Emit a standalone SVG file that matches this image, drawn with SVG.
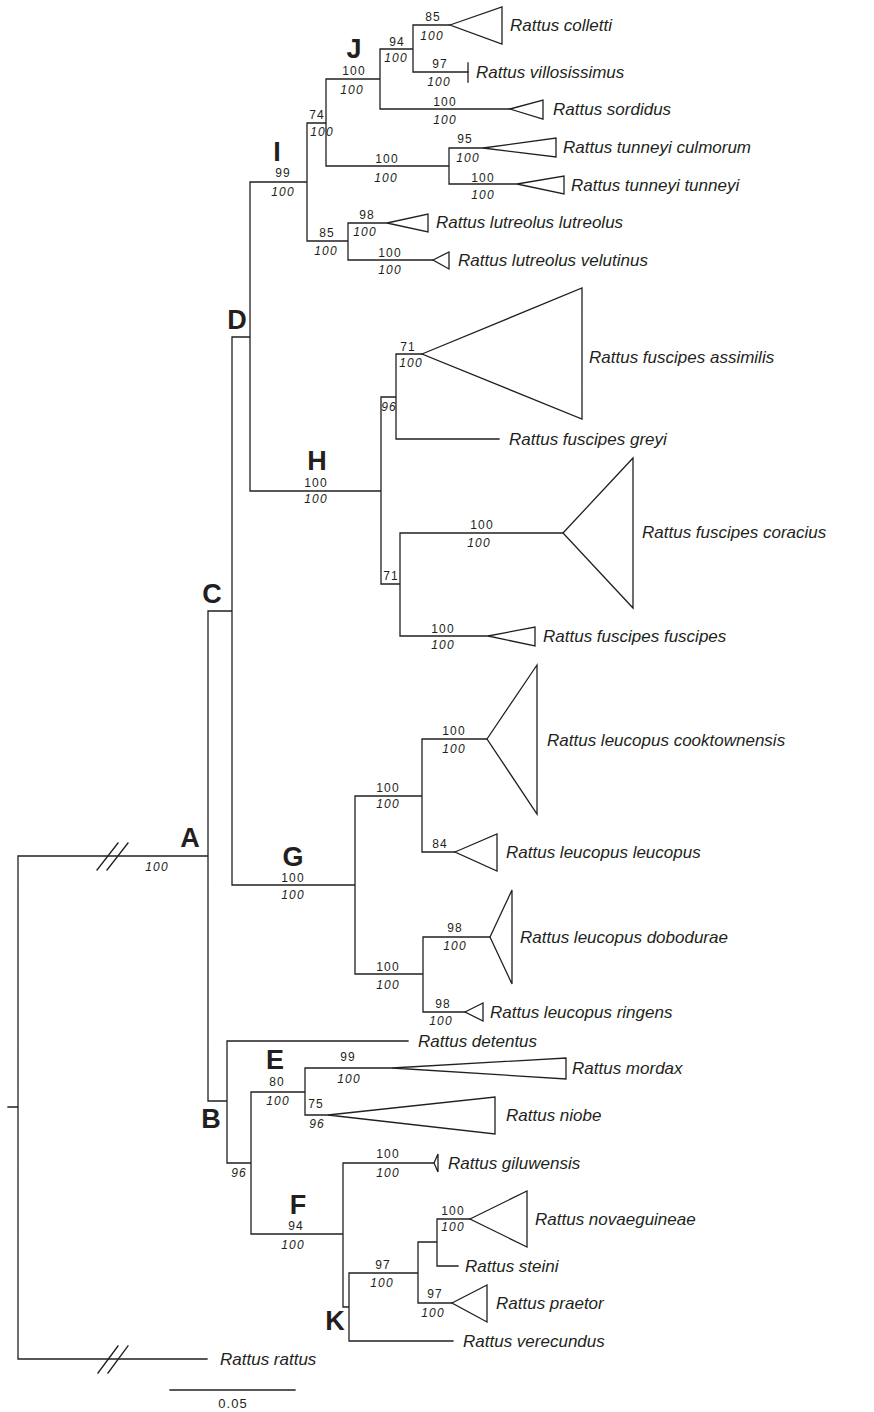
<svg xmlns="http://www.w3.org/2000/svg" width="874" height="1412" viewBox="0 0 874 1412">
<style>
.br{fill:none;stroke:#231f20;stroke-width:1.3;stroke-linecap:square}
.tri{fill:none;stroke:#231f20;stroke-width:1.3;stroke-linejoin:miter}
.tx{font-family:"Liberation Sans",Arial,sans-serif;font-style:italic;font-size:17px;fill:#231f20}
.bs{font-family:"Liberation Sans",Arial,sans-serif;font-size:12px;letter-spacing:1.2px;fill:#231f20;text-anchor:middle}
.pp{font-family:"Liberation Sans",Arial,sans-serif;font-size:12px;font-style:italic;letter-spacing:1.2px;fill:#231f20;text-anchor:middle}
.cl{font-family:"Liberation Sans",Arial,sans-serif;font-size:27px;font-weight:bold;fill:#231f20;text-anchor:middle}
.sc{font-family:"Liberation Sans",Arial,sans-serif;font-size:13px;letter-spacing:1px;fill:#231f20;text-anchor:middle}
</style>
<rect width="874" height="1412" fill="#fff"/>
<g id="connectors">
<path class="br" d="M8,1107H18 M18,856V1359 M18,856H208 M18,1359H207
M208,611V1101 M208,611H232 M232,337V885 M232,337H250 M250,182V491
M250,182H307 M307,123V241 M307,123H326 M326,79V166 M326,79H380 M380,49V109 M380,49H413 M413,25V72
M413,25H450 M413,72H468 M380,109H510 M326,166H449 M449,148V184 M449,148H483 M449,184H517
M307,241H348 M348,223V260 M348,223H387 M348,260H433
M250,491H381 M381,397V584 M381,397H396 M396,354V439 M396,354H422 M396,439H499
M381,584H400 M400,533V636 M400,533H563 M400,636H488
M232,885H355 M355,796V974 M355,796H422 M422,739V852 M422,739H487 M422,852H455
M355,974H423 M423,937V1012 M423,937H490 M423,1012H465
M208,1101H227 M227,1041V1163 M227,1041H408 M227,1163H251 M251,1092V1234
M251,1092H305 M305,1068V1115 M305,1068H392 M305,1115H328
M251,1234H343 M343,1163V1307 M343,1163H434 M343,1307H349 M349,1273V1341
M349,1273H418 M418,1242V1303 M418,1242H437 M437,1219V1266 M437,1219H470 M437,1266H458
M418,1303H452 M349,1341H453"/>
<path class="br" d="M97,870L118,843 M107,870L128,843 M98,1373L118,1346 M108,1373L128,1346"/>
</g>
<g id="clade-labels">
<text class="cl" x="190" y="847">A</text>
<text class="cl" x="211" y="1128">B</text>
<text class="cl" x="212" y="603">C</text>
<text class="cl" x="237" y="329">D</text>
<text class="cl" x="275" y="1069">E</text>
<text class="cl" x="298" y="1214">F</text>
<text class="cl" x="293" y="866">G</text>
<text class="cl" x="317" y="470">H</text>
<text class="cl" x="277" y="161">I</text>
<text class="cl" x="354" y="58">J</text>
<text class="cl" x="335" y="1330">K</text>
</g>
<g id="support">
<text class="bs" x="433" y="21">85</text><text class="pp" x="432" y="40">100</text>
<text class="bs" x="440" y="68">97</text><text class="pp" x="439" y="86">100</text>
<text class="bs" x="397" y="46">94</text><text class="pp" x="396" y="62">100</text>
<text class="bs" x="445" y="106">100</text><text class="pp" x="445" y="124">100</text>
<text class="bs" x="354" y="75">100</text><text class="pp" x="352" y="94">100</text>
<text class="bs" x="317" y="119">74</text><text class="pp" x="322" y="136">100</text>
<text class="bs" x="465" y="143">95</text><text class="pp" x="468" y="162">100</text>
<text class="bs" x="387" y="163">100</text><text class="pp" x="386" y="182">100</text>
<text class="bs" x="483" y="182">100</text><text class="pp" x="483" y="199">100</text>
<text class="bs" x="283" y="177">99</text><text class="pp" x="283" y="196">100</text>
<text class="bs" x="367" y="219">98</text><text class="pp" x="365" y="236">100</text>
<text class="bs" x="327" y="237">85</text><text class="pp" x="326" y="255">100</text>
<text class="bs" x="390" y="257">100</text><text class="pp" x="390" y="274">100</text>
<text class="bs" x="408" y="351">71</text><text class="pp" x="411" y="367">100</text>
<text class="pp" x="389" y="411">96</text>
<text class="bs" x="316" y="487">100</text><text class="pp" x="316" y="503">100</text>
<text class="bs" x="482" y="529">100</text><text class="pp" x="479" y="547">100</text>
<text class="bs" x="391" y="580">71</text>
<text class="bs" x="443" y="633">100</text><text class="pp" x="443" y="649">100</text>
<text class="bs" x="454" y="735">100</text><text class="pp" x="454" y="753">100</text>
<text class="bs" x="388" y="792">100</text><text class="pp" x="388" y="808">100</text>
<text class="bs" x="440" y="848">84</text>
<text class="bs" x="293" y="882">100</text><text class="pp" x="293" y="899">100</text>
<text class="bs" x="388" y="971">100</text><text class="pp" x="388" y="989">100</text>
<text class="bs" x="455" y="932">98</text><text class="pp" x="455" y="950">100</text>
<text class="bs" x="443" y="1008">98</text><text class="pp" x="441" y="1025">100</text>
<text class="pp" x="157" y="871">100</text>
<text class="bs" x="348" y="1061">99</text><text class="pp" x="349" y="1083">100</text>
<text class="bs" x="277" y="1086">80</text><text class="pp" x="278" y="1105">100</text>
<text class="bs" x="316" y="1108">75</text><text class="pp" x="317" y="1128">96</text>
<text class="pp" x="239" y="1177">96</text>
<text class="bs" x="388" y="1158">100</text><text class="pp" x="388" y="1177">100</text>
<text class="bs" x="296" y="1230">94</text><text class="pp" x="293" y="1249">100</text>
<text class="bs" x="453" y="1215">100</text><text class="pp" x="453" y="1231">100</text>
<text class="bs" x="383" y="1269">97</text><text class="pp" x="382" y="1287">100</text>
<text class="bs" x="435" y="1298">97</text><text class="pp" x="433" y="1317">100</text>
</g>
<g id="t-colletti"><path class="tri" d="M450,25L502,7V44Z"/><text class="tx" x="510" y="31">Rattus colletti</text></g>
<g id="t-villosissimus"><path class="br" d="M468,63V82"/><text class="tx" x="476" y="78">Rattus villosissimus</text></g>
<g id="t-sordidus"><path class="tri" d="M510,109L543,100V119Z"/><text class="tx" x="553" y="115">Rattus sordidus</text></g>
<g id="t-culmorum"><path class="tri" d="M483,148L556,138V157Z"/><text class="tx" x="563" y="153">Rattus tunneyi culmorum</text></g>
<g id="t-tunneyi"><path class="tri" d="M517,184L564,176V194Z"/><text class="tx" x="571" y="191">Rattus tunneyi tunneyi</text></g>
<g id="t-lutreolus"><path class="tri" d="M387,223L428,214V232Z"/><text class="tx" x="436" y="228">Rattus lutreolus lutreolus</text></g>
<g id="t-velutinus"><path class="tri" d="M433,260L449,252V269Z"/><text class="tx" x="458" y="266">Rattus lutreolus velutinus</text></g>
<g id="t-assimilis"><path class="tri" d="M422,354L582,288V419Z"/><text class="tx" x="589" y="363">Rattus fuscipes assimilis</text></g>
<g id="t-greyi"><text class="tx" x="509" y="445">Rattus fuscipes greyi</text></g>
<g id="t-coracius"><path class="tri" d="M563,533L633,458V608Z"/><text class="tx" x="642" y="538">Rattus fuscipes coracius</text></g>
<g id="t-fuscipes"><path class="tri" d="M488,636L535,627V646Z"/><text class="tx" x="543" y="642">Rattus fuscipes fuscipes</text></g>
<g id="t-cooktownensis"><path class="tri" d="M487,739L537,665V814Z"/><text class="tx" x="547" y="746">Rattus leucopus cooktownensis</text></g>
<g id="t-leucopus"><path class="tri" d="M455,852L497,834V871Z"/><text class="tx" x="506" y="858">Rattus leucopus leucopus</text></g>
<g id="t-dobodurae"><path class="tri" d="M490,937L512,890V984Z"/><text class="tx" x="520" y="943">Rattus leucopus dobodurae</text></g>
<g id="t-ringens"><path class="tri" d="M465,1012L483,1003V1021Z"/><text class="tx" x="490" y="1018">Rattus leucopus ringens</text></g>
<g id="t-detentus"><text class="tx" x="418" y="1047">Rattus detentus</text></g>
<g id="t-mordax"><path class="tri" d="M392,1068L566,1058V1079Z"/><text class="tx" x="572" y="1074">Rattus mordax</text></g>
<g id="t-niobe"><path class="tri" d="M328,1115L495,1097V1134Z"/><text class="tx" x="506" y="1121">Rattus niobe</text></g>
<g id="t-giluwensis"><path class="tri" d="M434,1163L438,1154V1172Z"/><text class="tx" x="448" y="1169">Rattus giluwensis</text></g>
<g id="t-novaeguineae"><path class="tri" d="M470,1219L527,1191V1247Z"/><text class="tx" x="535" y="1225">Rattus novaeguineae</text></g>
<g id="t-steini"><text class="tx" x="465" y="1272">Rattus steini</text></g>
<g id="t-praetor"><path class="tri" d="M452,1303L487,1285V1322Z"/><text class="tx" x="496" y="1309">Rattus praetor</text></g>
<g id="t-verecundus"><text class="tx" x="463" y="1347">Rattus verecundus</text></g>
<g id="t-rattus"><text class="tx" x="220" y="1365">Rattus rattus</text></g>
<g id="scale"><path class="br" d="M170,1390H295"/><text class="sc" x="233" y="1408">0.05</text></g>
</svg>
